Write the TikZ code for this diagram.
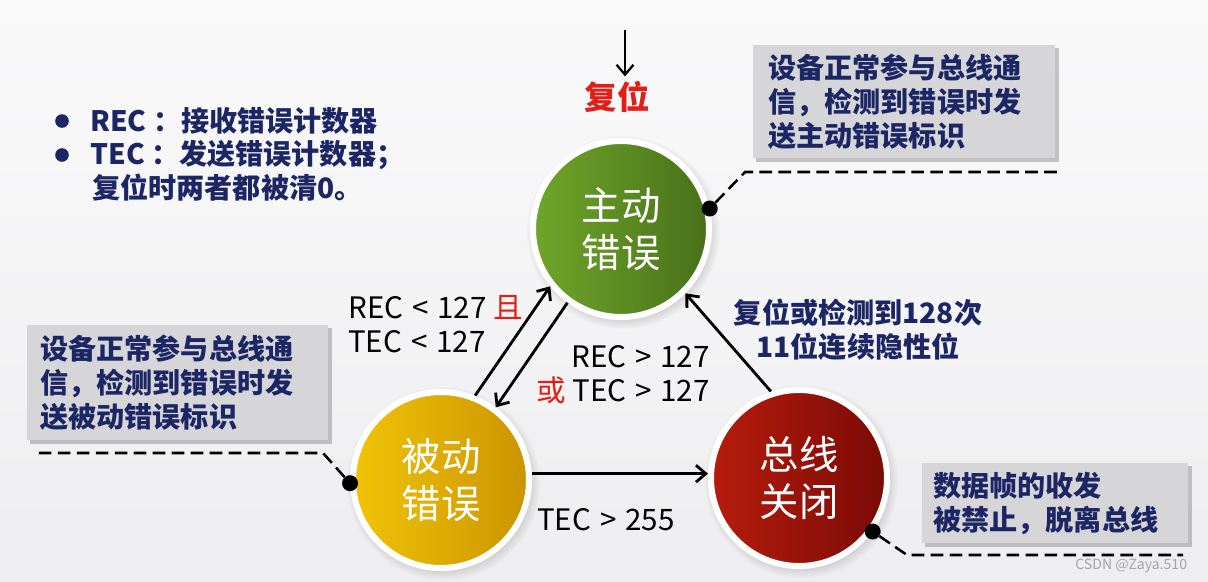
\documentclass[tikz,border=0pt]{standalone}
\usepackage{fontspec}
\setmainfont{Noto Sans CJK SC}
\usetikzlibrary{arrows.meta, shadows, calc}
\definecolor{navy}{RGB}{28,38,100}
\definecolor{hongse}{RGB}{226,30,24}
\definecolor{boxgray}{RGB}{214,214,217}
\definecolor{bgtop}{RGB}{250,250,251}
\definecolor{bgbot}{RGB}{238,238,240}
\definecolor{lvA}{RGB}{112,166,42}
\definecolor{lvB}{RGB}{72,112,26}
\definecolor{huangA}{RGB}{240,196,8}
\definecolor{huangB}{RGB}{204,148,0}
\definecolor{hongA}{RGB}{182,28,12}
\definecolor{hongB}{RGB}{122,10,6}
\newcommand{\kongge}{\hspace{0.3em}}
\tikzset{
    zhuangtai/.style={circle, draw=white, line width=4.3pt, minimum size=4.4cm, inner sep=0pt,
        text=white, align=center, font=\fontsize{28pt}{33pt}\selectfont,
        circular drop shadow={shadow xshift=0.5mm, shadow yshift=-0.7mm, opacity=0.3, fill=black!60}},
    flow/.style={-{Straight Barb[length=7pt, width=12pt]}, line width=2pt},
    lbl/.style={font=\fontsize{21pt}{24pt}\selectfont, inner sep=0pt},
    navytxt/.style={text=navy, font=\bfseries\fontsize{20pt}{24pt}\selectfont, inner sep=0pt},
    notebox/.style={fill=boxgray, text=navy, align=left, font=\bfseries\fontsize{20pt}{24pt}\selectfont,
        drop shadow={shadow xshift=0.8mm, shadow yshift=-0.8mm, opacity=0.4, fill=black!55}},
    dotmark/.style={circle, fill=black, minimum size=0.4cm, inner sep=0pt},
    huxian/.style={line width=1.8pt, dash pattern=on 9pt off 4.5pt},
}
\begin{document}
\begin{tikzpicture}[x=0.025cm, y=-0.025cm]
\useasboundingbox (0,0) rectangle (1208,581);
\fill[top color=bgtop, bottom color=bgbot] (0,0) rectangle (1208,581);

% three states
\node[zhuangtai, left color=lvA, right color=lvB] (active) at (621,229) {主动\\错误};
\node[zhuangtai, left color=huangA, right color=huangB] (passive) at (441,480) {被动\\错误};
\node[zhuangtai, left color=hongA, right color=hongB] (busoff) at (799,478) {总线\\关闭};

% reset
\node[font=\bfseries\fontsize{23pt}{26pt}\selectfont, text=hongse] (reset) at (617,97) {复位};
\coordinate (rst) at (625,30);
\draw[flow, line width=1.6pt] (rst) -- (rst |- reset.north);

% transitions
\draw[flow] (passive.68) -- (active.219);
\draw[flow] (active.234) -- (passive.53);
\draw[flow] (passive.4) -- (passive.4 -| busoff.west);
\draw[flow] (busoff.108) -- (active.315);

\node[lbl, anchor=west, align=left] (condA) at (348,324) {REC\kongge<\kongge127 \textcolor{hongse}{且}\\TEC\kongge<\kongge127};
\node[lbl, anchor=east, align=right] (condB) at (710,375) {REC\kongge>\kongge127\\\textcolor{hongse}{或} TEC\kongge>\kongge127};
\node[lbl, anchor=west] (condC) at (537,520) {TEC\kongge>\kongge255};
\node[navytxt, align=center] (condD) at (858,330) {复位或检测到128次\\11位连续隐性位};

% legend
\fill[navy] (62,121) circle (0.17cm);
\fill[navy] (62,155) circle (0.17cm);
\node[navytxt, anchor=west] (recline) at (90,121) {REC ：接收错误计数器};
\node[navytxt, anchor=west] (tecline) at (90,155) {TEC ：发送错误计数器；};
\node[navytxt, anchor=west] (clrline) at (92,188) {复位时两者都被清0。};

% notes
\node[notebox, anchor=north west, text width=6.8cm, inner xsep=0.375cm, minimum height=2.825cm] (noteA) at (753,45)
    {设备正常参与总线通\\信，检测到错误时发\\送主动错误标识};
\node[notebox, anchor=north west, text width=6.875cm, inner xsep=0.325cm, minimum height=2.875cm] (noteB) at (27,325)
    {设备正常参与总线通\\信，检测到错误时发\\送被动错误标识};
\node[notebox, anchor=north west, text width=6.1cm, inner xsep=0.275cm, minimum height=2cm] (noteC) at (922,463)
    {数据帧的收发\\被禁止，脱离总线};

% callout lines
\coordinate (kA) at (745,172);
\coordinate (kA2) at (1063,172);
\coordinate (kB) at (323,453);
\coordinate (kB2) at (33,453);
\coordinate (kC) at (907,555);
\coordinate (kC2) at (1183,555);
\node[dotmark] (dotA) at (active.13) {};
\node[dotmark] (dotB) at (passive.182) {};
\node[dotmark] (dotC) at (busoff.324) {};
\draw[huxian] (dotA) -- (kA) -- (kA2);
\draw[huxian] (dotB) -- (kB) -- (kB2);
\draw[huxian] (dotC) -- (kC) -- (kC2);

\node[font=\fontsize{10pt}{10pt}\selectfont, text=black!35, anchor=east] (wm) at (1192,566) {CSDN @Zaya.510};
\end{tikzpicture}
\end{document}
